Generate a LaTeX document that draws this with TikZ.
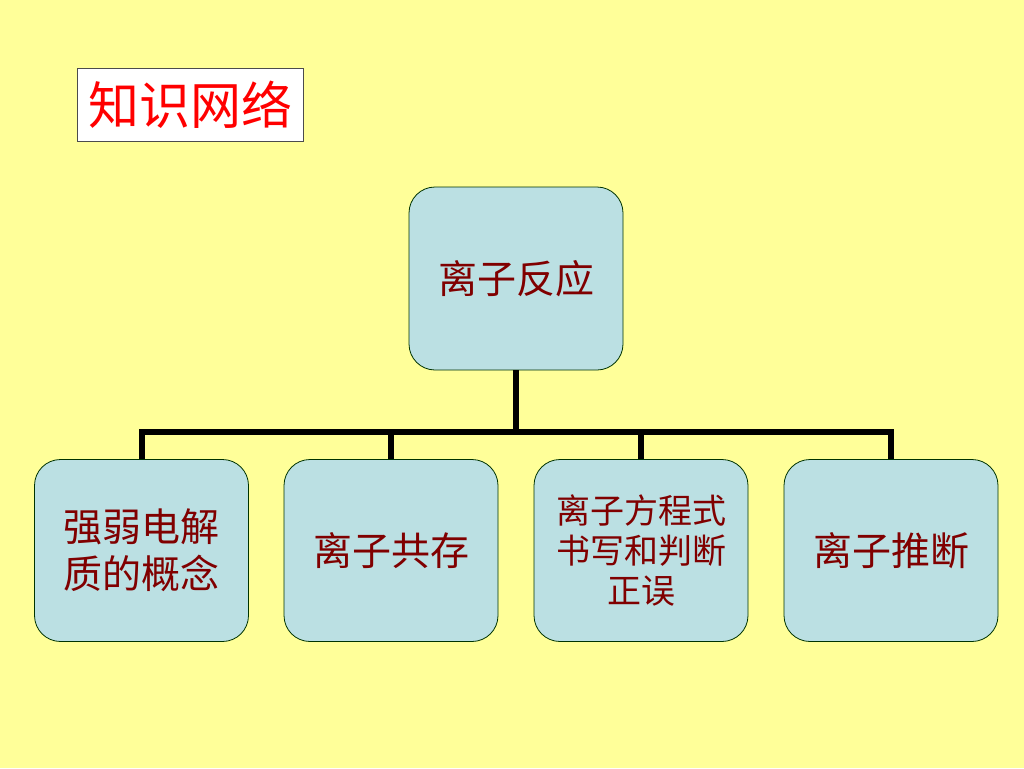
\documentclass[tikz,border=0pt]{standalone}
\usepackage{fontspec}
\newfontfamily\cjk{Noto Sans CJK SC}
\definecolor{bg}{HTML}{FFFF99}
\definecolor{boxfill}{HTML}{BBE0E3}
\definecolor{txt}{HTML}{800000}
\definecolor{ttl}{HTML}{FF0000}
\begin{document}
\begin{tikzpicture}[x=1pt,y=-1pt,
  card/.style={draw=black!80!green, line width=0.8pt, fill=boxfill, rounded corners=26pt,
    minimum width=214pt, minimum height=182pt, inner sep=0pt, align=center,
    text=txt, font=\cjk\fontsize{39}{47}\selectfont},
  link/.style={line width=6pt, draw=black}]
\fill[bg] (0,0) rectangle (1024,768);
\useasboundingbox (0,0) rectangle (1024,768);
\node[draw=black!70, line width=0.8pt, fill=white, minimum width=226pt, minimum height=73pt, inner sep=0pt,
  text=ttl, font=\cjk\fontsize{51}{56}\selectfont] (title) at (190,104.5) {知识网络};
\node[card, minimum height=183pt] (root) at (516,278.5) {离子反应};
\node[card] (b1) at (141.5,550.5) {强弱电解\\质的概念};
\node[card] (b2) at (391,550.5) {离子共存};
\node[card, font=\cjk\fontsize{34}{40}\selectfont] (b3) at (641,550.5) {离子方程式\\书写和判断\\正误};
\node[card] (b4) at (891,550.5) {离子推断};
\coordinate (j) at (516,432);
\draw[link] (root.south) -- (j);
\draw[link] (b1.north) -- (b1.north |- j) -- (b4.north |- j) -- (b4.north);
\draw[link] (b2.north) -- (b2.north |- j);
\draw[link] (b3.north) -- (b3.north |- j);
\end{tikzpicture}
\end{document}
